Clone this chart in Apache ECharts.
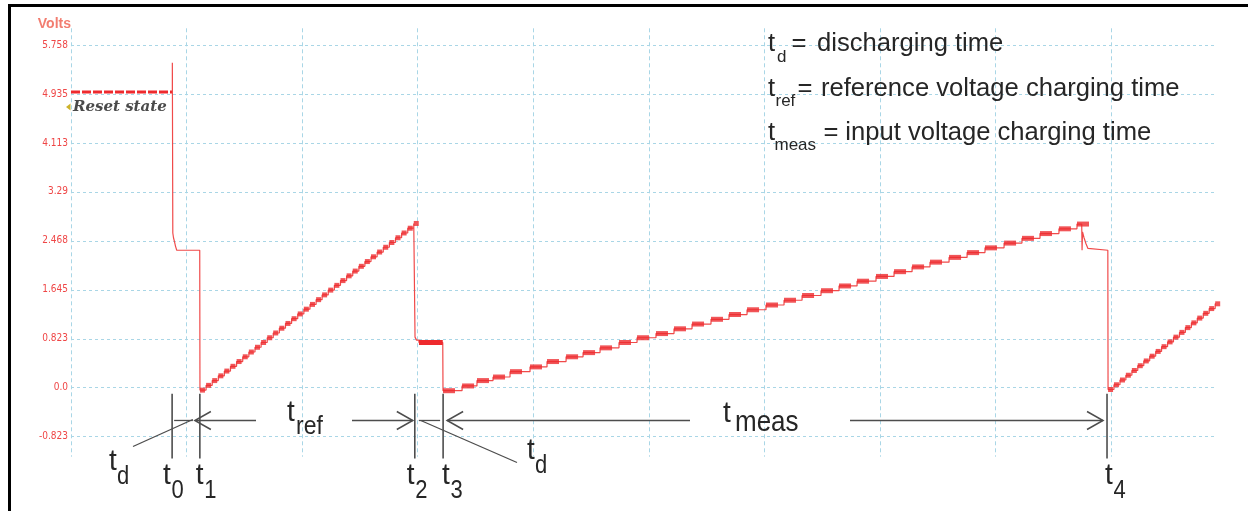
<!DOCTYPE html>
<html><head><meta charset="utf-8">
<script src="https://cdn.jsdelivr.net/npm/echarts@6/dist/echarts.min.js"></script>
<style>html,body{margin:0;padding:0;background:#fff;}#c{width:1248px;height:511px;}</style>
</head><body><div id="c"></div>
<script>
// ---------------- data ----------------
const yTickLabels = ['-0.823','0.0','0.823','1.645','2.468','3.29','4.113','4.935','5.758'];
const yMin = -0.8226, yStep = 0.8226, yMax = 5.7582;
const xMax = 99.08;

const resetTime  = [0, 8.77];
const resetVolts = [4.97, 4.97];

const dischargeTimeA  = [8.77, 8.77, 8.81, 8.87, 8.96, 9.04, 9.15, 11.14];
const dischargeVoltsA = [4.97, 5.46, 2.60, 2.52, 2.45, 2.38, 2.31, 2.31];

const ramp1Time  = [11.16,11.69,12.22,12.75,13.27,13.80,14.33,14.86,15.39,15.92,16.45,16.98,17.50,18.03,18.56,19.09,19.62,20.15,20.68,21.21,21.73,22.26,22.79,23.32,23.85,24.38,24.91,25.43,25.96,26.49,27.02,27.55,28.08,28.61,29.14,29.66];
const ramp1Volts = [-0.04,0.04,0.12,0.20,0.28,0.36,0.44,0.52,0.60,0.68,0.76,0.84,0.92,1.00,1.08,1.16,1.24,1.32,1.40,1.48,1.56,1.64,1.72,1.80,1.88,1.96,2.04,2.12,2.20,2.28,2.36,2.44,2.52,2.60,2.68,2.76];

const transferTime  = [29.72, 29.77, 29.90, 30.11, 32.17];
const transferVolts = [2.79, 0.85, 0.80, 0.76, 0.76];

const ramp2Time  = [32.19,33.84,35.13,36.52,37.99,39.72,41.19,42.84,44.31,45.78,47.42,48.98,50.62,52.18,53.74,55.38,56.94,58.50,60.14,61.70,63.26,64.90,66.46,68.02,69.66,71.22,72.78,74.33,75.98,77.54,79.09,80.74,82.29,83.85,85.49,87.05];
const ramp2Volts = [-0.05,0.03,0.12,0.18,0.27,0.35,0.44,0.52,0.59,0.67,0.76,0.84,0.91,0.99,1.07,1.15,1.23,1.31,1.39,1.47,1.55,1.63,1.71,1.79,1.87,1.95,2.03,2.11,2.19,2.27,2.35,2.43,2.51,2.59,2.67,2.75];

const dischargeTimeB  = [87.46, 87.49, 87.53, 87.66, 87.83, 88.00, 88.09, 89.72];
const dischargeVoltsB = [2.78, 2.31, 2.62, 2.52, 2.42, 2.34, 2.31, 2.31];

const ramp3Time  = [89.74,90.25,90.77,91.28,91.80,92.31,92.83,93.34,93.86,94.37,94.89,95.40,95.92,96.43,96.95,97.46,97.98,98.49,99.01];
const ramp3Volts = [-0.03,0.05,0.13,0.21,0.29,0.37,0.45,0.53,0.61,0.69,0.77,0.85,0.93,1.01,1.09,1.17,1.25,1.33,1.41];

const endTime = [99.08], endVolts = [1.41];

// annotation data
const markerTimes = [8.75, 11.15, 29.75, 32.2, 89.65];
const markerSubs  = ['0','1','2','3','4'];
const legendSubs  = ['d','ref','meas'];
const legendTexts = ['discharging time','reference voltage charging time','input voltage charging time'];

// ---------------- build ----------------
const zip = (a, b) => a.map((t, i) => [t, b[i]]);
const waveData = [].concat(
  zip(dischargeTimeA, dischargeVoltsA), zip(ramp1Time, ramp1Volts),
  zip(transferTime, transferVolts), zip(ramp2Time, ramp2Volts),
  zip(dischargeTimeB, dischargeVoltsB), zip(ramp3Time, ramp3Volts),
  zip(endTime, endVolts));

const RED = '#ee2a2e', RED_THIN = '#f04a4a', GRIDC = '#a9d6e6', INK = '#262626', MARK = '#4d4d4d';

const chart = echarts.init(document.getElementById('c'), null, {renderer: 'canvas'});
chart.setOption({
  animation: false,
  backgroundColor: '#fff',
  grid: [
    {left: 71, right: 32, top: 45, bottom: 74.3},
    {left: 71, right: 32, top: 28.3, bottom: 54.3}
  ],
  xAxis: [
    {gridIndex: 0, type: 'value', min: 0, max: xMax, show: false},
    {gridIndex: 1, type: 'value', min: 0, max: xMax, interval: 10,
     axisLine: {show: false}, axisTick: {show: false}, axisLabel: {show: false},
     splitLine: {show: true, showMaxLine: false, lineStyle: {color: GRIDC, type: [4, 3], width: 1}}}
  ],
  yAxis: [
    {gridIndex: 0, type: 'value', min: yMin, max: yMax, interval: yStep,
     name: 'Volts', nameLocation: 'end', nameGap: 14,
     nameTextStyle: {color: '#f27d70', fontWeight: 'bold', fontSize: 14, fontFamily: 'Liberation Sans', align: 'right', padding: [0, 0, 0, 0]},
     axisLine: {show: false}, axisTick: {show: false},
     axisLabel: {color: '#ef4646', fontSize: 10, margin: 3, fontFamily: '"Liberation Sans Narrow","DejaVu Sans Condensed",sans-serif',
       formatter: v => yTickLabels[Math.round((v - yMin) / yStep)]},
     splitLine: {show: true, lineStyle: {color: GRIDC, type: [3, 3], width: 1}}},
    {gridIndex: 1, type: 'value', min: 0, max: 1, show: false}
  ],
  series: [
    {type: 'line', name: 'reset', data: zip(resetTime, resetVolts), symbol: 'none', z: 3,
     lineStyle: {color: RED, width: 3, type: [9, 2]}},
    {type: 'line', name: 'trace', data: waveData, step: 'end', symbol: 'none', z: 3,
     lineStyle: {color: RED_THIN, width: 1.2}},
    {type: 'line', name: 'plateau', data: zip(transferTime.slice(3), transferVolts.slice(3)), symbol: 'none', z: 4,
     lineStyle: {color: RED, width: 5}},
    {type: 'scatter', name: 'ramp1', data: zip(ramp1Time, ramp1Volts), symbol: 'rect', symbolSize: [5, 5], symbolOffset: [2.5, 0], z: 4,
     itemStyle: {color: RED}},
    {type: 'scatter', name: 'ramp2', data: zip(ramp2Time, ramp2Volts), symbol: 'rect', symbolSize: [12, 5], symbolOffset: [6, 0], z: 4,
     itemStyle: {color: RED}},
    {type: 'scatter', name: 'ramp3', data: zip(ramp3Time, ramp3Volts), symbol: 'rect', symbolSize: [5, 5], symbolOffset: [2.5, 0], z: 4,
     itemStyle: {color: RED}}
  ]
});

// ---------------- annotations ----------------
const P = (t, v) => chart.convertToPixel({xAxisIndex: 0, yAxisIndex: 0}, [t, v]);
const FONT = '"Liberation Sans", Arial, sans-serif';
const g = [];
function txt(s, x, baseline, size, sy) {
  const o = {type: 'text', x: x, y: baseline - 0.35 * size * (sy || 1), z: 10, scaleY: sy || 1,
    style: {text: s, x: 0, y: 0, font: size + 'px ' + FONT, fill: INK,
      align: 'left', verticalAlign: 'middle', textAlign: 'left', textVerticalAlign: 'middle'}};
  g.push(o); return o;
}
function seg(x1, y1, x2, y2, w) {
  g.push({type: 'line', z: 10, shape: {x1, y1, x2, y2}, style: {stroke: MARK, lineWidth: w || 1.5}});
}
function chevron(tipX, y, dir) { // dir -1 points left, +1 points right
  g.push({type: 'polyline', z: 10, shape: {points: [[tipX - dir * 16, y - 9], [tipX, y], [tipX - dir * 16, y + 9]]},
    style: {stroke: MARK, lineWidth: 1.5, fill: null}});
}

// frame
g.push({type: 'polyline', z: 20, shape: {points: [[9.5, 520], [9.5, 5.5], [1260, 5.5]]}, style: {stroke: '#000', lineWidth: 3, fill: null}});

// marker lines
const mx = markerTimes.map(t => P(t, 0)[0]);
const yTop = P(0, -0.10)[1], yBot = P(0, -1.19)[1], yArr = P(0, -0.55)[1];
mx.forEach(x => seg(x, yTop, x, yBot, 1.6));

// t_d pointers
seg(mx[0] + 2, yArr, mx[1] - 7, yArr, 1.3);
seg(133, yArr + 26, mx[1] - 7, yArr - 1, 1.3);
seg(mx[2] + 4, yArr, mx[3] - 3, yArr, 1.3);
seg(mx[2] + 6, yArr, 517, yArr + 42, 1.3);
// t_ref arrows
chevron(mx[1] - 5, yArr, -1); seg(mx[1] - 4, yArr, 256, yArr, 1.5);
seg(352, yArr, mx[2] - 2, yArr, 1.5); chevron(mx[2] - 2, yArr, 1);
// t_meas arrows
chevron(mx[3] + 4, yArr, -1); seg(mx[3] + 4, yArr, 690, yArr, 1.5);
seg(850, yArr, mx[4] - 4, yArr, 1.5); chevron(mx[4] - 4, yArr, 1);

// labels under markers
const tOff = [-9, -4, -8, -1, -2];
mx.forEach((x, i) => {
  txt('t', x + tOff[i], 486, 28, 1.08);
  txt(markerSubs[i], x + tOff[i] + 8.5, 500, 22, 1.2);
});
txt('t', 109, 472, 28, 1.08); txt('d', 117, 485.5, 22, 1.15);
txt('t', 527, 461, 28, 1.08); txt('d', 535, 474.5, 22, 1.15);
txt('t', 287, 423, 28, 1.08); txt('ref', 296, 436, 23, 1.1);
txt('t', 723, 424, 28, 1.08); txt('meas', 735, 433, 26, 1.1);

// legend (top right)
const legBase = [53.3, 97.5, 141.5];
const eqX = [791.5, 797.5, 823.5], wordX = [817, 821, 845.3], subX = [777, 775.5, 774.5];
legBase.forEach((b, i) => {
  txt('t', 768, b, 25.6);
  txt(legendSubs[i], subX[i], b + 9.5, 17);
  txt('=', eqX[i], b, 25.6);
  txt(legendTexts[i], wordX[i], b, 25.6);
});

// reset state label
g.push({type: 'polygon', z: 10, shape: {points: [[66, 107], [70.5, 103.5], [70.5, 110.5]]}, style: {fill: '#cdb22a'}});
g.push({type: 'text', x: 73, y: 107, z: 10, style: {text: 'Reset state', x: 0, y: 0,
  font: 'bold italic 15px "DejaVu Serif", serif', fill: '#4a4a4a', align: 'left', verticalAlign: 'middle',
  textAlign: 'left', textVerticalAlign: 'middle', shadowColor: 'rgba(0,0,0,0.25)', shadowBlur: 2, shadowOffsetX: 1, shadowOffsetY: 1}});

chart.setOption({graphic: {elements: g}});
</script>
</body></html>
